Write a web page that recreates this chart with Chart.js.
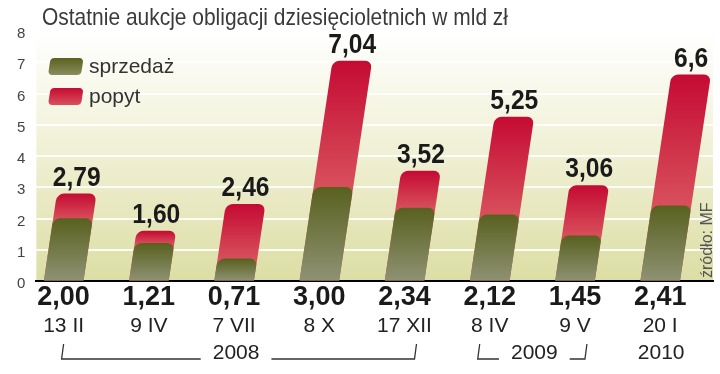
<!DOCTYPE html>
<html>
<head>
<meta charset="utf-8">
<script src="https://cdn.jsdelivr.net/npm/chart.js@4"></script>
<style>
  html, body { margin: 0; padding: 0; background: #fff; }
  #wrap { width: 720px; height: 374px; }
</style>
</head>
<body>
<div id="wrap"><canvas id="chart1"></canvas></div>
<script>
const dates = ['13 II', '9 IV', '7 VII', '8 X', '17 XII', '8 IV', '9 V', '20 I'];
const sprzedaz = [2.00, 1.21, 0.71, 3.00, 2.34, 2.12, 1.45, 2.41];
const popyt = [2.79, 1.60, 2.46, 7.04, 3.52, 5.25, 3.06, 6.6];
const popytText = ['2,79', '1,60', '2,46', '7,04', '3,52', '5,25', '3,06', '6,6'];
const yTicks = [0, 1, 2, 3, 4, 5, 6, 7, 8];
const years = [
  { label: '2008', from: 0, to: 4, bracket: true },
  { label: '2009', from: 5, to: 6, bracket: true },
  { label: '2010', from: 7, to: 7, bracket: false }
];

const SLANT = 0.15;
const plain = '"Liberation Sans", Arial, sans-serif';

function greenFill(c) {
  const ys = c.chart.scales.y;
  if (!ys || c.type !== 'data') return '#5a6226';
  const t = ys.getPixelForValue(sprzedaz[c.dataIndex]);
  const b = ys.getPixelForValue(0);
  if (!isFinite(t) || !isFinite(b)) return '#5a6226';
  const g = c.chart.ctx.createLinearGradient(0, t, 0, b);
  g.addColorStop(0, '#59611f');
  g.addColorStop(1, '#8f9274');
  return g;
}

function redFill(c) {
  const ys = c.chart.scales.y;
  if (!ys || c.type !== 'data') return '#c80f34';
  const t = ys.getPixelForValue(popyt[c.dataIndex]);
  const m = ys.getPixelForValue(sprzedaz[c.dataIndex]);
  if (!isFinite(t) || !isFinite(m)) return '#c80f34';
  const g = c.chart.ctx.createLinearGradient(0, t, 0, m + 1);
  g.addColorStop(0, '#c50b33');
  g.addColorStop(1, '#d8505c');
  return g;
}

// tło pola wykresu
const bgPlugin = {
  id: 'bg',
  beforeDraw(chart) {
    const { ctx, chartArea: a } = chart;
    const g = ctx.createLinearGradient(0, a.top, 0, a.bottom);
    g.addColorStop(0, '#ffffff');
    g.addColorStop(0.45, '#f1f1d8');
    g.addColorStop(1, '#dcdea4');
    ctx.save();
    ctx.fillStyle = g;
    ctx.fillRect(a.left, a.top, a.right - a.left, a.bottom - a.top);
    ctx.restore();
  }
};

// tekst zwężony w poziomie (brak fontu condensed)
function narrowText(ctx, text, x, y, sx) {
  ctx.save();
  ctx.translate(x, y);
  ctx.scale(sx, 1);
  ctx.fillText(text, 0, 0);
  ctx.restore();
}

// pochylone słupki + podpisy
const slantPlugin = {
  id: 'slant',
  beforeDatasetsDraw(chart) {
    const base = chart.scales.y.getPixelForValue(0);
    chart.ctx.save();
    chart.ctx.transform(1, 0, -SLANT, 1, SLANT * base, 0);
  },
  afterDatasetsDraw(chart) {
    const ctx = chart.ctx;
    ctx.restore();
    const xs = chart.scales.x, ys = chart.scales.y;
    const base = ys.getPixelForValue(0);
    ctx.save();
    ctx.fillStyle = '#1a1a1a';
    ctx.font = 'bold 28px ' + plain;
    ctx.textAlign = 'center';
    ctx.textBaseline = 'alphabetic';
    popyt.forEach((v, i) => {
      const top = ys.getPixelForValue(v);
      const x = xs.getPixelForValue(i) + SLANT * (base - top);
      narrowText(ctx, popytText[i], x, top - 8, 0.88);
    });
    ctx.restore();
  }
};

function slantBox(ctx, x, y, w, h, r, fill) {
  ctx.save();
  ctx.transform(1, 0, -SLANT, 1, SLANT * (y + h), 0);
  ctx.beginPath();
  ctx.roundRect(x, y, w, h, r);
  ctx.fillStyle = fill;
  ctx.fill();
  ctx.restore();
}

const extrasPlugin = {
  id: 'extras',
  afterDraw(chart) {
    const ctx = chart.ctx;
    const xs = chart.scales.x;
    ctx.save();

    // tytuł
    ctx.fillStyle = '#3a3a3a';
    ctx.font = '24px ' + plain;
    ctx.textAlign = 'left';
    ctx.textBaseline = 'alphabetic';
    const title = 'Ostatnie aukcje obligacji dziesięcioletnich w mld zł';
    narrowText(ctx, title, 42, 25, 466 / ctx.measureText(title).width);

    // legenda
    let g = ctx.createLinearGradient(0, 58, 0, 75);
    g.addColorStop(0, '#59611f'); g.addColorStop(1, '#8a8d5e');
    slantBox(ctx, 48, 58, 33, 17, 4, g);
    g = ctx.createLinearGradient(0, 88, 0, 105);
    g.addColorStop(0, '#c50b33'); g.addColorStop(1, '#d8505c');
    slantBox(ctx, 48, 88, 33, 17, 4, g);
    ctx.fillStyle = '#333';
    ctx.font = '21px ' + plain;
    ctx.textBaseline = 'middle';
    ctx.fillText('sprzedaż', 89, 67);
    ctx.fillText('popyt', 89, 97);

    // lata z klamrami
    ctx.font = '21px ' + plain;
    ctx.textAlign = 'center';
    ctx.fillStyle = '#222';
    ctx.strokeStyle = '#333';
    ctx.lineWidth = 1.3;
    const yLine = 359, yTop = 344, yText = 353;
    years.forEach(yr => {
      const a = xs.getPixelForValue(yr.from), b = xs.getPixelForValue(yr.to);
      const mid = (a + b) / 2 + (yr.bracket ? 2 : 1);
      ctx.fillText(yr.label, mid, yText);
      if (!yr.bracket) return;
      const w = ctx.measureText(yr.label).width;
      const l = a - (yr.from === 0 ? 2 : 12), r = b + 10;
      ctx.beginPath();
      ctx.moveTo(l + 2, yTop); ctx.lineTo(l, yLine); ctx.lineTo(mid - w / 2 - 12, yLine);
      ctx.moveTo(mid + w / 2 + 12, yLine); ctx.lineTo(r, yLine); ctx.lineTo(r + 2, yTop);
      ctx.stroke();
    });

    // źródło
    ctx.translate(708, 278);
    ctx.rotate(-Math.PI / 2);
    ctx.font = '16px ' + plain;
    ctx.fillStyle = '#555';
    ctx.textAlign = 'left';
    ctx.textBaseline = 'middle';
    ctx.fillText('źródło: MF', 0, 0);
    ctx.restore();
  }
};

const xRange = { min: -0.32, max: 7.62 };

const ctx = document.getElementById('chart1');

const myChart1 = new Chart(ctx, {
  type: 'bar',
  data: {
    datasets: [{
      label: 'sprzedaż',
      data: sprzedaz.map((v, i) => ({ x: i, y: v })),
      backgroundColor: greenFill,
      order: 0
    }, {
      label: 'popyt',
      data: popyt.map((v, i) => ({ x: i, y: v })),
      backgroundColor: redFill,
      order: 1
    }]
  },
  options: {
    responsive: true,
    maintainAspectRatio: false,
    animation: false,
    layout: { padding: { top: 31, left: 6, right: 7, bottom: 36 } },
    datasets: {
      bar: { grouped: false, barThickness: 39, borderRadius: 7, clip: false }
    },
    plugins: {
      legend: { display: false },
      tooltip: { enabled: false }
    },
    scales: {
      x: {
        type: 'linear',
        offset: false,
        min: xRange.min, max: xRange.max,
        z: 1,
        weight: 0,
        afterBuildTicks: (axis) => { axis.ticks = dates.map((d, i) => ({ value: i })); },
        grid: { display: false, drawTicks: false },
        border: { display: true, color: '#000', width: 2 },
        ticks: {
          padding: 0,
          maxRotation: 0,
          autoSkip: false,
          color: '#1a1a1a',
          font: { family: plain, size: 27, weight: 'bold', lineHeight: 1.25 },
          callback: (v) => sprzedaz[v].toFixed(2).replace('.', ',')
        }
      },
      x2: {
        type: 'linear',
        offset: false,
        position: 'bottom',
        min: xRange.min, max: xRange.max,
        weight: 1,
        afterBuildTicks: (axis) => { axis.ticks = dates.map((d, i) => ({ value: i })); },
        grid: { display: false, drawTicks: false },
        border: { display: false },
        ticks: {
          padding: 0,
          maxRotation: 0,
          autoSkip: false,
          color: '#222',
          font: { family: plain, size: 21, lineHeight: 1.1 },
          callback: (v) => dates[v]
        }
      },
      y: {
        min: 0, max: 8,
        z: 1,
        afterBuildTicks: (axis) => { axis.ticks = yTicks.map(v => ({ value: v })); },
        grid: { color: 'rgba(255,255,255,0.85)', lineWidth: 2, drawTicks: false },
        border: { display: false },
        ticks: {
          padding: 11,
          labelOffset: 3,
          color: '#444',
          font: { family: plain, size: 15 }
        }
      }
    }
  },
  plugins: [bgPlugin, slantPlugin, extrasPlugin]
});
</script>
</body>
</html>
